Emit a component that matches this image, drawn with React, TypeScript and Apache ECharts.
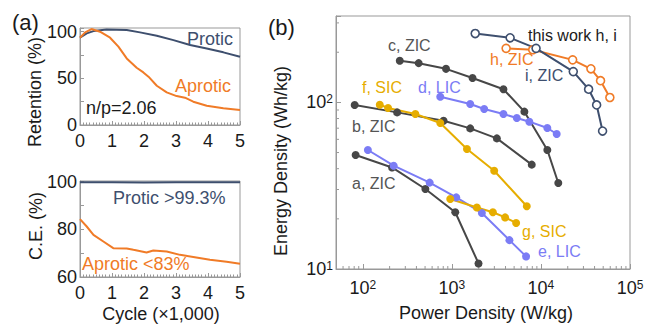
import React, { useEffect, useRef } from "react";
import * as echarts from "echarts";

// ---- Panel (a): retention ----
const retProticCycle = [0, 0.21, 0.42, 0.83, 1.46, 1.875, 2.4, 2.92, 3.44, 3.96, 4.48, 5];
const retProtic = [93.6, 98.2, 100.7, 102.5, 101.8, 99.3, 95.7, 91, 85.7, 82, 77.9, 73.2];
const retAproticCycle = [0, 0.16, 0.36, 0.625, 0.94, 1.2, 1.46, 1.77, 1.98, 2.14, 2.4, 2.71, 3.02, 3.28, 3.54, 3.96, 4.48, 5];
const retAprotic = [93.6, 99.3, 102.9, 100, 93.6, 84, 71.4, 61.4, 56.4, 51.8, 42.1, 35, 31, 29.3, 25, 20.7, 17.9, 16];

// ---- Panel (a): coulombic efficiency ----
const ceProticCycle = [0, 1, 2, 3, 4, 5];
const ceProtic = [99.8, 99.8, 99.7, 99.8, 99.8, 99.8];
const ceAproticCycle = [0, 0.21, 0.42, 0.73, 1.04, 1.46, 1.67, 2.08, 2.29, 2.71, 3.125, 3.54, 4.06, 4.58, 5];
const ceAprotic = [84.3, 81.2, 77.7, 74.9, 72.1, 72, 71.4, 70.3, 71.1, 70.7, 69.3, 68.4, 67.2, 66.4, 65.6];

// ---- Panel (b): Ragone plot [power W/kg, energy Wh/kg] ----
const aZIC = [[83, 48.3], [213, 40.7], [504, 30.2], [1092, 21.9], [1991, 10.8]];
const bZIC = [[81, 96.5], [243, 87.1], [807, 77.6], [1607, 69.8], [3199, 60.8], [7886, 42.3]];
const cZIC = [[260, 178], [424, 172], [859, 159], [1706, 140], [3793, 120], [6518, 88], [11800, 51.8], [15660, 32.8]];
const dLIC = [[741, 108], [1607, 97.8], [2306, 91.3], [3793, 85.2], [5358, 80.6], [7413, 76.6], [11800, 70.2], [15030, 64.6]];
const eLIC = [[114, 51.8], [222, 41.7], [563, 33], [1120, 26.9], [2173, 21.7], [4426, 14.9], [6810, 11.9]];
const fSIC = [[155, 96.9], [192, 92.6], [389, 85.2], [741, 75.2], [1476, 52.5], [2985, 38.9], [6935, 23.8]];
const gSIC = [[959, 26.3], [1910, 23.4], [2885, 21.9], [3963, 20.4], [5262, 18.9]];
const hZIC = [[4064, 211], [8090, 207], [22700, 180], [36400, 159], [46700, 135], [59400, 107]];
const iZIC = [[1828, 259], [4508, 244], [8813, 211], [23070, 153], [34300, 120], [42200, 96.5], [49200, 67.3]];

const FONT = "'Liberation Sans', Arial, sans-serif";
const GRAY = "#474747";
const BLUE = "#7b7cf5";
const YELLOW = "#e6ad00";
const ORANGE = "#f07b27";
const NAVY = "#3e4f6e";
const FRAME = "#999";
const TXT = "#1a1a1a";

const zip = (xs: number[], ys: number[]) => xs.map((x, i) => [x, ys[i]]);

const isPow10 = (v: number) => {
  const l = Math.log10(v);
  return Math.abs(l - Math.round(l)) < 1e-6;
};

export default function App() {
  const ref = useRef<HTMLDivElement>(null);
  useEffect(() => {
    if (!ref.current) return;
    const chart = echarts.init(ref.current, null, { renderer: "svg" });

    const xMinor: number[][] = [];
    const yMinor: number[][] = [];
    for (let k = 1; k <= 4; k++) {
      for (let m = 2; m <= 9; m++) {
        const v = m * Math.pow(10, k);
        if (v > 50 && v < 100000) xMinor.push([v, 10]);
        if (v > 10 && v < 330) yMinor.push([50, v]);
      }
    }

    const linAxisCommon = {
      axisLine: { lineStyle: { color: FRAME, width: 1 } },
      axisTick: { inside: true, length: 4, lineStyle: { color: FRAME } },
      splitLine: { show: false },
      axisLabel: { color: TXT, fontSize: 18, fontFamily: FONT },
    };

    const ragone = (data: number[][], color: string, open = false) => ({
      type: "line",
      xAxisIndex: 2,
      yAxisIndex: 2,
      data,
      symbol: "circle",
      symbolSize: open ? 8 : 8,
      color,
      lineStyle: { color, width: 2 },
      itemStyle: open
        ? { color: "#fff", borderColor: color, borderWidth: 1.6 }
        : { color },
      z: 3,
    });

    const logLabel = {
      color: TXT,
      fontFamily: FONT,
      formatter: (v: number) => {
        if (!isPow10(v)) return "";
        return `{b|10}{s|${Math.round(Math.log10(v))}}`;
      },
      rich: {
        b: { fontSize: 18, fontFamily: FONT, color: TXT },
        s: { fontSize: 12, fontFamily: FONT, color: TXT, verticalAlign: "top" },
      },
    };

    const text = (t: string, x: number, y: number, color: string, size = 16, extra: any = {}) => ({
      type: "text",
      x,
      y,
      ...extra,
      style: {
        text: t,
        fill: color,
        fontSize: size,
        fontFamily: FONT,
        align: extra.align || "left",
        verticalAlign: "middle",
      },
      z: 10,
    });

    const option: any = {
      animation: false,
      textStyle: { fontFamily: FONT },
      grid: [
        { left: 80, top: 28, width: 160, height: 97, show: true, borderColor: FRAME, borderWidth: 1 },
        { left: 80, top: 181, width: 160, height: 96, show: true, borderColor: FRAME, borderWidth: 1 },
        { left: 336, top: 16, width: 294, height: 253, show: true, borderColor: FRAME, borderWidth: 1 },
      ],
      xAxis: [
        {
          ...linAxisCommon,
          gridIndex: 0,
          type: "value",
          min: 0,
          max: 5,
          interval: 1,
          minorTick: { show: true, splitNumber: 10, length: 2.5, lineStyle: { color: FRAME } },
          axisLabel: { ...linAxisCommon.axisLabel, margin: 7 },
        },
        {
          ...linAxisCommon,
          gridIndex: 1,
          type: "value",
          min: 0,
          max: 5,
          interval: 1,
          minorTick: { show: true, splitNumber: 10, length: 2.5, lineStyle: { color: FRAME } },
          axisLabel: { ...linAxisCommon.axisLabel, margin: 7 },
        },
        {
          gridIndex: 2,
          type: "log",
          logBase: 10,
          min: 50,
          max: 100000,
          axisLine: { lineStyle: { color: FRAME, width: 1 } },
          axisTick: { inside: true, length: 5, lineStyle: { color: FRAME } },
          splitLine: { show: false },
          axisLabel: { ...logLabel, margin: 10 },
        },
      ],
      yAxis: [
        {
          ...linAxisCommon,
          gridIndex: 0,
          type: "value",
          min: 0,
          max: 104,
          interval: 25,
          axisLabel: {
            ...linAxisCommon.axisLabel,
            margin: 3,
            formatter: (v: number) => (v % 50 === 0 ? String(v) : ""),
          },
        },
        {
          ...linAxisCommon,
          gridIndex: 1,
          type: "value",
          min: 60,
          max: 100.3,
          interval: 10,
          axisLabel: {
            ...linAxisCommon.axisLabel,
            margin: 3,
            formatter: (v: number) => (v % 20 === 0 ? String(v) : ""),
          },
        },
        {
          gridIndex: 2,
          type: "log",
          logBase: 10,
          min: 10,
          max: 330,
          axisLine: { lineStyle: { color: FRAME, width: 1 } },
          axisTick: { inside: true, length: 5, lineStyle: { color: FRAME } },
          splitLine: { show: false },
          axisLabel: { ...logLabel, margin: 3 },
        },
      ],
      series: [
        {
          type: "line", xAxisIndex: 0, yAxisIndex: 0, data: zip(retProticCycle, retProtic),
          showSymbol: false, lineStyle: { color: NAVY, width: 2 }, color: NAVY,
        },
        {
          type: "line", xAxisIndex: 0, yAxisIndex: 0, data: zip(retAproticCycle, retAprotic),
          showSymbol: false, lineStyle: { color: ORANGE, width: 2 }, color: ORANGE,
        },
        {
          type: "line", xAxisIndex: 1, yAxisIndex: 1, data: zip(ceProticCycle, ceProtic),
          showSymbol: false, lineStyle: { color: NAVY, width: 2 }, color: NAVY,
        },
        {
          type: "line", xAxisIndex: 1, yAxisIndex: 1, data: zip(ceAproticCycle, ceAprotic),
          showSymbol: false, lineStyle: { color: ORANGE, width: 2 }, color: ORANGE,
        },
        {
          type: "custom", xAxisIndex: 2, yAxisIndex: 2, data: xMinor, clip: false, silent: true,
          renderItem: (params: any, api: any) => {
            const p = api.coord([api.value(0), api.value(1)]);
            return { type: "line", shape: { x1: p[0], y1: p[1], x2: p[0], y2: p[1] - 3 }, style: { stroke: FRAME, lineWidth: 1 } };
          },
        },
        {
          type: "custom", xAxisIndex: 2, yAxisIndex: 2, data: yMinor, clip: false, silent: true,
          renderItem: (params: any, api: any) => {
            const p = api.coord([api.value(0), api.value(1)]);
            return { type: "line", shape: { x1: p[0], y1: p[1], x2: p[0] + 3, y2: p[1] }, style: { stroke: FRAME, lineWidth: 1 } };
          },
        },
        ragone(aZIC, GRAY),
        ragone(bZIC, GRAY),
        ragone(cZIC, GRAY),
        ragone(dLIC, BLUE),
        ragone(eLIC, BLUE),
        ragone(fSIC, YELLOW),
        ragone(gSIC, YELLOW),
        ragone(hZIC, ORANGE, true),
        ragone(iZIC, NAVY, true),
      ],
      graphic: [
        text("(a)", 12, 22, TXT, 22),
        text("(b)", 268, 27, TXT, 22),
        text("Retention (%)", 35, 92, TXT, 18, { rotation: Math.PI / 2, align: "center" }),
        text("C.E. (%)", 36, 226, TXT, 18, { rotation: Math.PI / 2, align: "center" }),
        text("Cycle (\u00d71,000)", 161, 314, TXT, 18, { align: "center" }),
        text("Energy Density (Wh/kg)", 281, 161, TXT, 18, { rotation: Math.PI / 2, align: "center" }),
        text("Power Density (W/kg)", 486, 313, TXT, 18, { align: "center" }),
        text("Protic", 187, 38.5, NAVY, 18),
        text("Aprotic", 175, 86, ORANGE, 18),
        text("n/p=2.06", 86, 108, TXT, 18),
        text("Protic >99.3%", 113, 197.5, NAVY, 18),
        text("Aprotic <83%", 82, 264, ORANGE, 18),
        text("c, ZIC", 388, 45, "#555", 16),
        text("f, SIC", 362, 87, YELLOW, 16),
        text("d, LIC", 418, 87, BLUE, 16),
        text("b, ZIC", 352, 126, "#555", 16),
        text("a, ZIC", 352, 183, "#555", 16),
        text("g, SIC", 522, 231, YELLOW, 16),
        text("e, LIC", 538, 251, BLUE, 16),
        text("this work h, i", 528, 35, TXT, 16),
        text("h, ZIC", 490, 59, ORANGE, 16),
        text("i, ZIC", 525, 75, NAVY, 16),
      ],
    };

    chart.setOption(option);
    return () => chart.dispose();
  }, []);

  return (
    <div
      ref={ref}
      style={{ position: "absolute", left: 0, top: 0, width: 647, height: 325 }}
    />
  );
}
